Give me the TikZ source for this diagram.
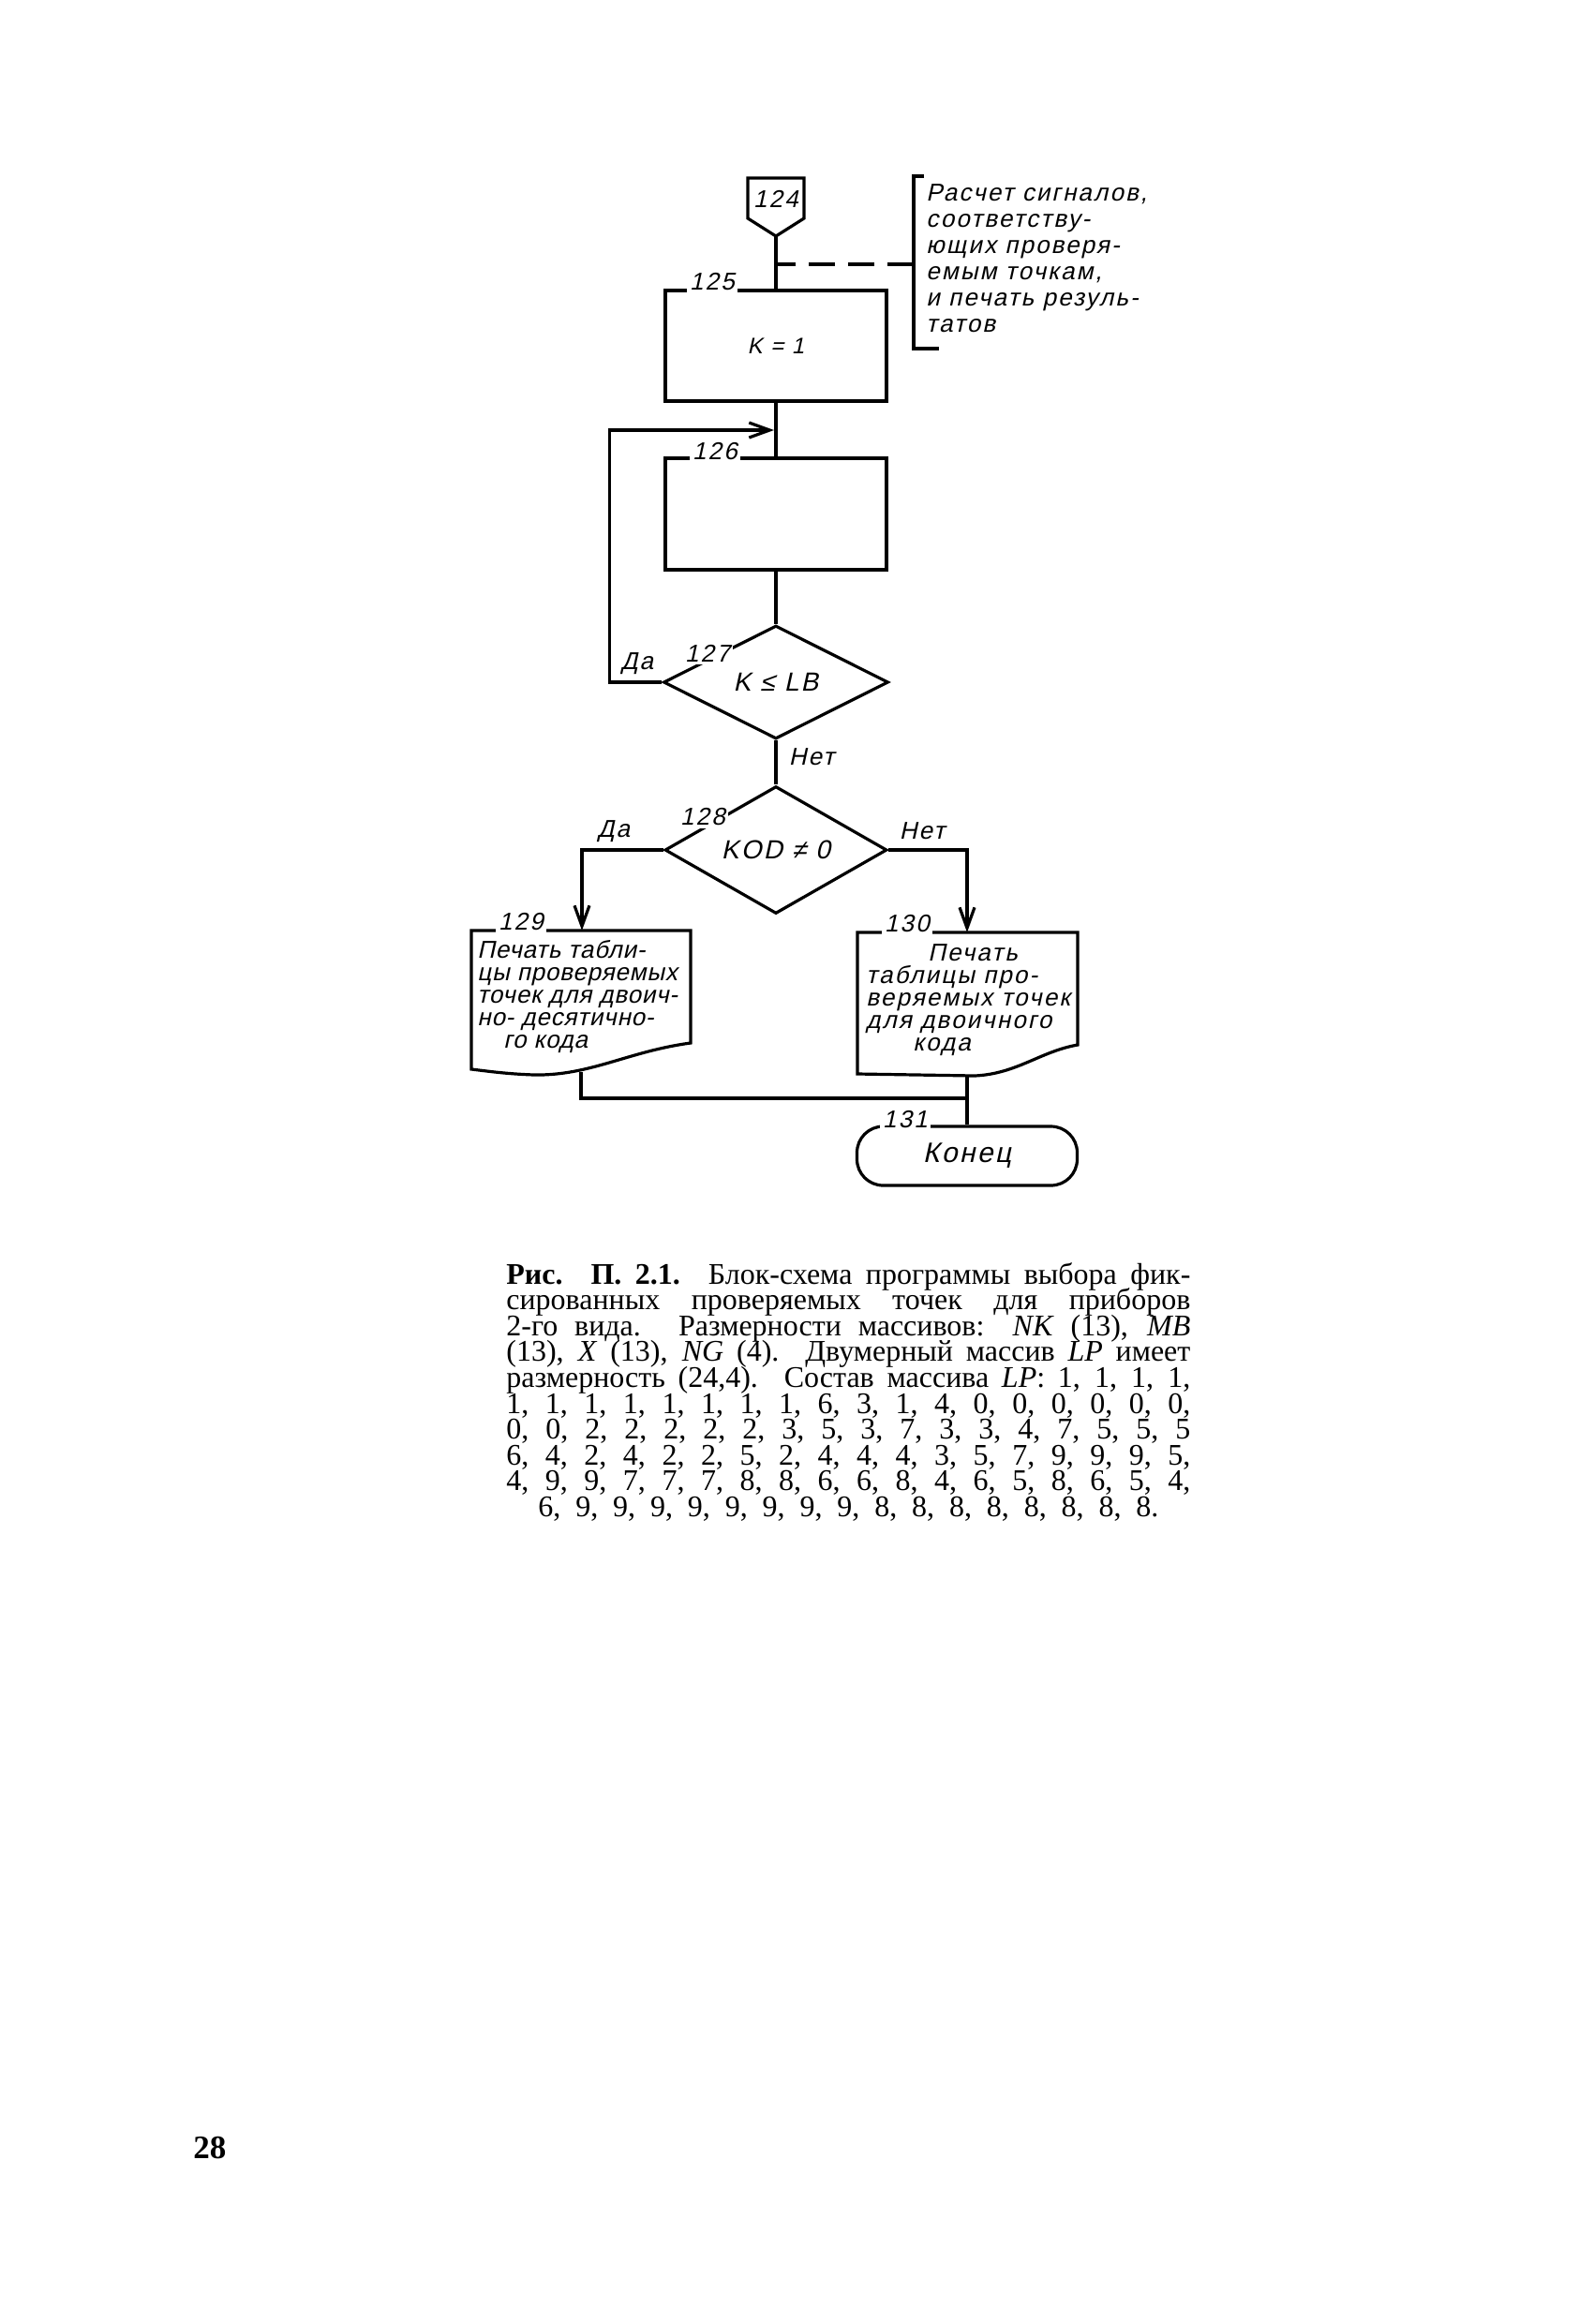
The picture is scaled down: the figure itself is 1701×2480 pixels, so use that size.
\documentclass[tikz,border=0pt]{standalone}
\usepackage{fontspec}
\setmainfont{Liberation Serif}
\newfontfamily\gost{Liberation Sans}[FakeSlant=0.22,LetterSpace=8]
\newfontfamily\gostn{Liberation Sans}[FakeSlant=0.22,LetterSpace=3]
\usetikzlibrary{shapes.geometric,arrows.meta}
\begin{document}
\begin{tikzpicture}[x=0.5pt,y=-0.5pt,
  line/.style={line width=1.6pt},
  box/.style={draw,line width=1.6pt,minimum width=118pt,inner sep=0pt},
  dia/.style={draw,diamond,line width=1.6pt,inner sep=0pt,font=\gost\fontsize{14}{14}\selectfont},
  lbl/.style={font=\gost\fontsize{13}{13}\selectfont,inner sep=1.5pt,fill=white},
  txt/.style={font=\gost\fontsize{13}{12}\selectfont,inner sep=0pt,align=left},
  arr/.style={-{Straight Barb[length=11pt,width=8pt]}},
  capt/.style={font=\fontsize{16}{13.8}\selectfont,inner sep=0pt,anchor=base west}
]
\useasboundingbox (0,0) rectangle (1701,2480);

% 124 connector
\draw[line,line join=miter] (798,190) -- (858,190) -- (858,233) -- (828,252) -- (798,233) -- cycle;
\node[txt] (n124) at (828,212) {124};
\coordinate (c124) at (828,252);

% 125
\node[box,minimum height=59pt,font=\gost\fontsize{12}{12}\selectfont] (b125) at (828,369) {K = 1};
\draw[line] (c124) -- (b125.north);

% comment
\coordinate (dash0) at (828,282);
\coordinate (brk) at (975,282);
\draw[line,dash pattern=on 14pt off 7pt] (brk) -- (dash0);
\draw[line] (986,188) -- (975,188) -- (975,372) -- (1002,372);
\node[txt,anchor=north west,font=\gost\fontsize{13}{14}\selectfont] (note) at (988,196)
  {Расчет сигналов,\\ соответству-\\ ющих проверя-\\ емым точкам,\\ и печать резуль-\\ татов};

% 126
\node[box,minimum height=59.5pt] (b126) at (828,548.5) {};
\draw[line] (b125) -- (b126);
\coordinate (loopj) at (826,459);

% 127
\node[dia,minimum width=120pt,minimum height=60.5pt] (d127) at (828,728) {K ≤ LB};
\draw[line] (b126) -- (d127);
\draw[line,arr] (d127.west) -- ++(-56,0) |- (loopj);
\node[txt] (da1) at (680,708) {Да};
\node[txt] (net1) at (866,808) {Нет};

% 128
\node[dia,minimum width=118.5pt,minimum height=61.5pt] (d128) at (828,907) {KOD ≠ 0};
\draw[line] (d127) -- (d128);
\node[txt] (da2) at (655,887) {Да};
\node[txt] (net2) at (984,887) {Нет};

\coordinate (in129) at (621,993);
\coordinate (in130) at (1032,995);
\draw[line,arr] (d128.west) -| (in129);
\draw[line,arr] (d128.east) -| (in130);

% 129 document
\draw[line,line join=miter] (503,993) -- (737,993) -- (737,1113)
  .. controls (670,1122) and (630,1148) .. (570,1147)
  .. controls (540,1146) and (520,1143) .. (503,1141) -- cycle;
\node[txt,anchor=north west,font=\gostn\fontsize{13}{12}\selectfont] (t129) at (509,1003)
  {Печать табли-\\ цы проверяемых\\ точек для двоич-\\ но- десятично-\\ \hspace*{14pt}го кода};

% 130 document
\draw[line,line join=miter] (915,995) -- (1150,995) -- (1150,1115)
  .. controls (1110,1122) and (1085,1146) .. (1040,1148)
  -- (915,1146) -- cycle;
\node[txt,anchor=north west] (t130) at (924,1007)
  {\hspace*{33pt}Печать\\ таблицы про-\\ веряемых точек\\ для двоичного\\ \hspace*{25pt}кода};

% 131 terminal
\node[draw,line width=1.6pt,rounded corners=14pt,minimum width=117.5pt,minimum height=31.5pt,
  font=\gost\fontsize{15}{15}\selectfont] (t131) at (1032,1233.5) {Конец};

\coordinate (out129) at (620,1144);
\coordinate (out130) at (1032,1148);
\coordinate (join) at (1032,1172);
\draw[line] (out129) |- (join);
\draw[line] (out130) -- (t131);

% number labels
\node[lbl,anchor=base] (l125) at (760,309) {125};
\node[lbl,anchor=base] (l126) at (763,490) {126};
\node[lbl] (l127) at (755,697) {127};
\node[lbl] (l128) at (750,872) {128};
\node[lbl,anchor=base] (l129) at (556,992) {129};
\node[lbl,anchor=base] (l130) at (968,994) {130};
\node[lbl,anchor=base] (l131) at (966,1203) {131};

% caption
\node[capt] (cap1) at (540,1370) {\makebox[365pt][s]{\textbf{Рис. П. 2.1.} Блок-схема программы выбора фик-}};
\node[capt] (cap2) at (540,1397.6) {\makebox[365pt][s]{сированных проверяемых точек для приборов}};
\node[capt] (cap3) at (540,1425.2) {\makebox[365pt][s]{2-го вида. Размерности массивов: \textit{NK} (13), \textit{MB}}};
\node[capt] (cap4) at (540,1452.8) {\makebox[365pt][s]{(13), \textit{X} (13), \textit{NG} (4). Двумерный массив \textit{LP} имеет}};
\node[capt] (cap5) at (540,1480.4) {\makebox[365pt][s]{размерность (24,4). Состав массива \textit{LP}: 1, 1, 1, 1,}};
\node[capt] (cap6) at (540,1508) {\makebox[365pt][s]{1, 1, 1, 1, 1, 1, 1, 1, 6, 3, 1, 4, 0, 0, 0, 0, 0, 0,}};
\node[capt] (cap7) at (540,1535.6) {\makebox[365pt][s]{0, 0, 2, 2, 2, 2, 2, 3, 5, 3, 7, 3, 3, 4, 7, 5, 5, 5}};
\node[capt] (cap8) at (540,1563.2) {\makebox[365pt][s]{6, 4, 2, 4, 2, 2, 5, 2, 4, 4, 4, 3, 5, 7, 9, 9, 9, 5,}};
\node[capt] (cap9) at (540,1590.8) {\makebox[365pt][s]{4, 9, 9, 7, 7, 7, 8, 8, 6, 6, 8, 4, 6, 5, 8, 6, 5, 4,}};
\node[capt] (cap10) at (574,1618.4) {\makebox[331pt][s]{6, 9, 9, 9, 9, 9, 9, 9, 9, 8, 8, 8, 8, 8, 8, 8, 8.}};

% page number
\node[anchor=base west,inner sep=0pt,font=\bfseries\fontsize{17.5}{17.5}\selectfont] (pnum) at (206,2303) {28};
\end{tikzpicture}
\end{document}
